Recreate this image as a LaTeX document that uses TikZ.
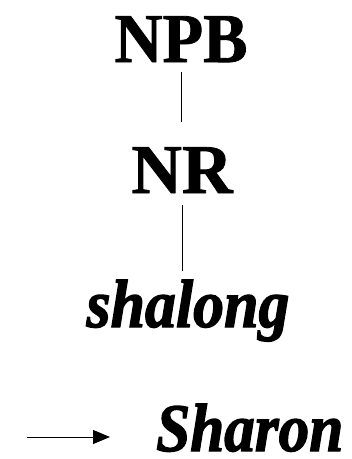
\documentclass[tikz,border=0pt]{standalone}
\usepackage{fontspec}
\usepackage{graphicx}
\setmainfont{Liberation Serif}
\newfontfamily\heavyfont[FakeBold=1.2]{Liberation Serif Bold}
\newfontfamily\heavyitalfont[FakeBold=2]{Liberation Serif Bold Italic}
\usetikzlibrary{arrows.meta, positioning}

\newcommand{\narrowword}[2][0.91]{\scalebox{#1}[1]{#2}}

\begin{document}
\begin{tikzpicture}[
    x=1pt, y=-1pt,
    % Node Styles
    cat/.style={inner sep=0pt, anchor=base, font=\fontsize{70}{70}\heavyfont},
    word/.style={inner sep=0pt, anchor=base, font=\fontsize{68}{68}\heavyitalfont},
    branch/.style={line width=1pt},
    gloss/.style={line width=1pt, -{Triangle[length=17pt, width=14pt]}}
]
\useasboundingbox (0,0) rectangle (352,459);

% --- Tree ---
\node[cat] (npb) at (181,62) {\narrowword[0.95]{NPB}};
\node[cat] (nr) at (182,193) {NR};
\node[word] (shalong) at (188,327) {\narrowword{shalong}};

% --- Translation ---
\coordinate (tail) at (27,437);
\coordinate (head) at (110,437);
\node[word, anchor=base west] (sharon) at (156,451) {\narrowword[0.9]{Sharon}};

% --- Edges ---
\draw[branch, shorten <=10pt, shorten >=25pt] (npb.south) -- (npb.south |- nr.north);
\draw[branch, shorten <=12pt, shorten >=9pt] (nr.south) -- (nr.south |- shalong.north);
\draw[gloss] (tail) -- (head);

\end{tikzpicture}
\end{document}
